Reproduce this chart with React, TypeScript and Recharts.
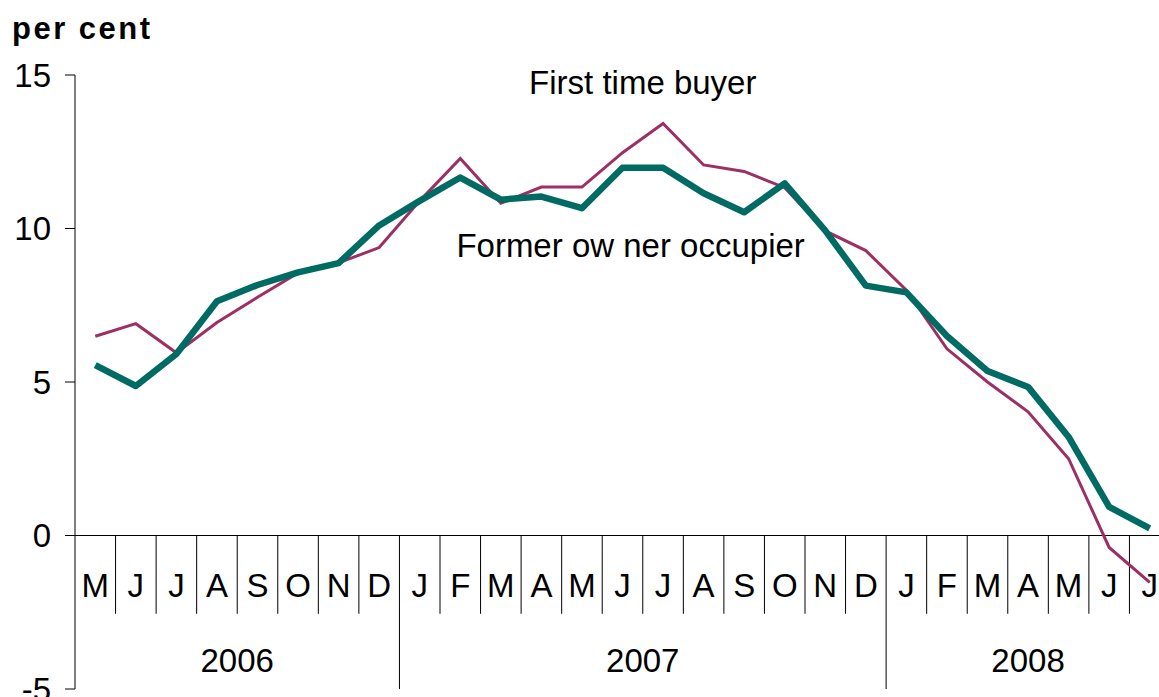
import React from "react";
import { LineChart, Line, XAxis, YAxis, ReferenceLine, ReferenceDot } from "recharts";

const months = ["M", "J", "J", "A", "S", "O", "N", "D", "J", "F", "M", "A", "M", "J", "J", "A", "S", "O", "N", "D", "J", "F", "M", "A", "M", "J", "J"];
const firstTimeBuyer = [6.49, 6.9, 5.95, 6.94, 7.76, 8.55, 8.88, 9.38, 10.9, 12.28, 10.82, 11.35, 11.35, 12.47, 13.42, 12.07, 11.86, 11.33, 9.92, 9.28, 7.99, 6.08, 5.0, 4.03, 2.5, -0.39, -1.53];
const formerOwner = [5.55, 4.87, 5.91, 7.63, 8.16, 8.57, 8.87, 10.1, 10.9, 11.66, 10.94, 11.04, 10.66, 11.98, 11.98, 11.15, 10.53, 11.47, 9.93, 8.14, 7.92, 6.5, 5.36, 4.84, 3.21, 0.93, 0.23];
const yearLabels = ["2006", "2007", "2008"];
const yearStarts = [0, 8, 20];
const yearEnds = [8, 20, 27];
const yTicks = [-5, 0, 5, 10, 15];

const data = months.map((m, i) => ({ i, m, ftb: firstTimeBuyer[i], foo: formerOwner[i] }));

const PURPLE = "#9c2f64";
const TEAL = "#006b63";
const FONT = "'Liberation Sans', Arial, sans-serif";

// vertical placement of the axis furniture, in y units
const MONTH_Y = -1.62;
const DIVIDER_BOTTOM = -2.55;
const YEAR_Y = -4.08;

export default function App() {
  return (
    <div style={{ position: "absolute", left: 0, top: 0, width: 1159, height: 697, overflow: "hidden", background: "#fff", fontFamily: FONT }}>
      <div style={{ position: "absolute", left: 12, top: 11, fontSize: 31, lineHeight: "36px", fontWeight: "bold", letterSpacing: 2.5, color: "#000" }}>
        per cent
      </div>
      <LineChart width={1190} height={697} data={data} margin={{ top: 75, right: 20, bottom: 8, left: 0 }}>
        <XAxis type="number" dataKey="i" domain={[-0.5, 26.5]} hide height={0} />
        <YAxis
          width={75}
          domain={[-5, 15]}
          ticks={yTicks}
          interval={0}
          tickSize={10}
          tickMargin={14}
          axisLine={{ stroke: "#000" }}
          tickLine={{ stroke: "#000" }}
          tick={{ fill: "#000", fontSize: 33, fontFamily: FONT }}
        />
        <ReferenceLine y={0} stroke="#000" strokeWidth={1} />
        {months.map((_, i) =>
          i === 0 ? null : (
            <ReferenceLine
              key={`div-${i}`}
              segment={[
                { x: i - 0.5, y: 0 },
                { x: i - 0.5, y: yearStarts.includes(i) ? -5 : DIVIDER_BOTTOM },
              ]}
              stroke="#000"
              strokeWidth={1}
            />
          )
        )}
        {months.map((m, i) => (
          <ReferenceDot
            key={`m-${i}`}
            x={i}
            y={MONTH_Y}
            r={0}
            fill="none"
            stroke="none"
            label={{ value: m, position: "center", fill: "#000", fontSize: 33, fontFamily: FONT }}
          />
        ))}
        {yearLabels.map((y, k) => (
          <ReferenceDot
            key={`y-${y}`}
            x={(yearStarts[k] + yearEnds[k] - 1) / 2}
            y={YEAR_Y}
            r={0}
            fill="none"
            stroke="none"
            label={{ value: y, position: "center", fill: "#000", fontSize: 33, fontFamily: FONT }}
          />
        ))}
        <ReferenceDot
          x={13.5}
          y={14.75}
          r={0}
          fill="none"
          stroke="none"
          label={{ value: "First time buyer", position: "center", fill: "#000", fontSize: 33, fontFamily: FONT }}
        />
        <ReferenceDot
          x={13.2}
          y={9.45}
          r={0}
          fill="none"
          stroke="none"
          label={{ value: "Former ow ner occupier", position: "center", fill: "#000", fontSize: 33, fontFamily: FONT }}
        />
        <Line type="linear" dataKey="ftb" stroke={PURPLE} strokeWidth={3} dot={false} isAnimationActive={false} />
        <Line type="linear" dataKey="foo" stroke={TEAL} strokeWidth={6.5} dot={false} strokeLinejoin="round" isAnimationActive={false} />
      </LineChart>
    </div>
  );
}
